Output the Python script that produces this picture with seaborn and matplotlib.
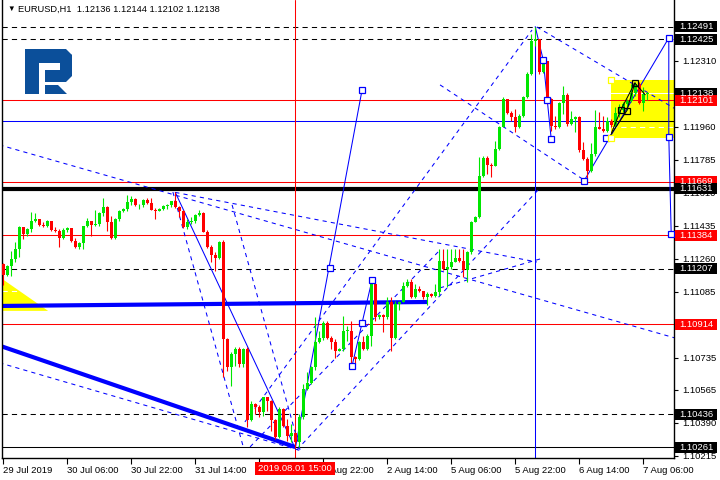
import seaborn as sns
import matplotlib.pyplot as plt
from matplotlib.patches import Rectangle, Polygon
from matplotlib.transforms import blended_transform_factory

sns.set_style("white")
plt.rcParams['font.family'] = ['Liberation Sans', 'DejaVu Sans']

# EURUSD H1 bars, 29 Jul 14:00 .. 7 Aug 07:00 (open of a bar = close of the previous one)
first_open = 1.11232
closes = [
    1.11174, 1.11223, 1.11259, 1.11312, 1.11427, 1.11391, 1.11418, 1.11462, 1.11471, 1.11439,
    1.11432, 1.11458, 1.11413, 1.11405, 1.11368, 1.11414, 1.11421, 1.11356, 1.11321, 1.11344,
    1.11432, 1.11462, 1.11441, 1.11444, 1.11503, 1.11533, 1.11457, 1.11368, 1.11471, 1.11515,
    1.11524, 1.11559, 1.11577, 1.11545, 1.11547, 1.11573, 1.11556, 1.11520, 1.11515, 1.11524,
    1.11538, 1.11547, 1.11564, 1.11533, 1.11511, 1.11427, 1.11453, 1.11462, 1.11492, 1.11501,
    1.11404, 1.11324, 1.11282, 1.11264, 1.11351,
    1.10837, 1.10685, 1.10755, 1.10782, 1.10702, 1.10782, 1.10405, 1.10490, 1.10476, 1.10446,
    1.10526, 1.10508, 1.10405, 1.10313, 1.10464, 1.10375, 1.10322, 1.10335, 1.10287, 1.10420,
    1.10570, 1.10600, 1.10685, 1.10817, 1.10840, 1.10918, 1.10840, 1.10817, 1.10773, 1.10782,
    1.10879, 1.10879, 1.10741, 1.10729, 1.10817, 1.10782, 1.10852, 1.11126, 1.10950, 1.10964,
    1.10950, 1.11029, 1.10840, 1.11020, 1.11029, 1.11117, 1.11135, 1.11056, 1.11100, 1.11087,
    1.11056, 1.11073, 1.11064, 1.11082, 1.11250,
    1.11206, 1.11214, 1.11241, 1.11264, 1.11246, 1.11200, 1.11294, 1.11453, 1.11480, 1.11700,
    1.11794, 1.11759, 1.11754, 1.11842, 1.11960, 1.12107, 1.12031, 1.12013, 1.11957, 1.12018,
    1.12119, 1.12239, 1.12412, 1.12425, 1.12248, 1.12306, 1.12107, 1.11965, 1.11957, 1.12084,
    1.12130, 1.11974, 1.12001, 1.12010, 1.11836, 1.11789, 1.11723, 1.11815, 1.11957, 1.11950,
    1.11935, 1.11992, 1.11971, 1.12031, 1.12048, 1.12080, 1.12098, 1.12137, 1.12186, 1.12084,
    1.12136, 1.12138,
]
highs = [
    1.11236, 1.11227, 1.11303, 1.11347, 1.11432, 1.11427, 1.11421, 1.11506, 1.11503, 1.11471,
    1.11453, 1.11464, 1.11460, 1.11427, 1.11418, 1.11421, 1.11428, 1.11425, 1.11368, 1.11347,
    1.11435, 1.11474, 1.11462, 1.11519, 1.11510, 1.11582, 1.11538, 1.11489, 1.11474, 1.11520,
    1.11527, 1.11600, 1.11594, 1.11580, 1.11550, 1.11577, 1.11580, 1.11582, 1.11531, 1.11531,
    1.11545, 1.11550, 1.11568, 1.11612, 1.11541, 1.11520, 1.11471, 1.11480, 1.11497, 1.11520,
    1.11510, 1.11413, 1.11333, 1.11294, 1.11356,
    1.11360, 1.10840, 1.10764, 1.10791, 1.10791, 1.10787, 1.10790, 1.10508, 1.10495, 1.10487,
    1.10529, 1.10529, 1.10511, 1.10411, 1.10473, 1.10469, 1.10411, 1.10384, 1.10340, 1.10437,
    1.10596, 1.10658, 1.10693, 1.10950, 1.10879, 1.10932, 1.10928, 1.10852, 1.10835, 1.10787,
    1.10958, 1.10905, 1.10932, 1.10746, 1.10826, 1.10852, 1.10861, 1.11144, 1.11135, 1.10967,
    1.10967, 1.11056, 1.11056, 1.11038, 1.11038, 1.11135, 1.11153, 1.11153, 1.11126, 1.11117,
    1.11091, 1.11082, 1.11077, 1.11126, 1.11312,
    1.11312, 1.11312, 1.11312, 1.11312, 1.11312, 1.11312, 1.11303, 1.11462, 1.11489, 1.11798,
    1.11806, 1.11806, 1.11766, 1.11886, 1.11965, 1.12119, 1.12107, 1.12045, 1.12054, 1.12027,
    1.12124, 1.12248, 1.12451, 1.12491, 1.12425, 1.12319, 1.12306, 1.12112, 1.12018, 1.12089,
    1.12177, 1.12137, 1.12045, 1.12018, 1.12018, 1.11877, 1.11798, 1.11872, 1.12048, 1.12036,
    1.12018, 1.12010, 1.12001, 1.12063, 1.12080, 1.12089, 1.12107, 1.12186, 1.12195, 1.12195,
    1.12169, 1.12144,
]
lows = [
    1.11121, 1.11167, 1.11167, 1.11245, 1.11268, 1.11365, 1.11382, 1.11404, 1.11453, 1.11435,
    1.11427, 1.11428, 1.11409, 1.11400, 1.11321, 1.11365, 1.11404, 1.11351, 1.11315, 1.11312,
    1.11312, 1.11427, 1.11382, 1.11435, 1.11435, 1.11489, 1.11409, 1.11365, 1.11365, 1.11458,
    1.11506, 1.11515, 1.11547, 1.11541, 1.11526, 1.11534, 1.11552, 1.11517, 1.11471, 1.11511,
    1.11517, 1.11524, 1.11534, 1.11529, 1.11480, 1.11421, 1.11418, 1.11444, 1.11450, 1.11485,
    1.11400, 1.11319, 1.11245, 1.11197, 1.11259,
    1.10632, 1.10667, 1.10587, 1.10693, 1.10688, 1.10685, 1.10367, 1.10398, 1.10437, 1.10420,
    1.10428, 1.10455, 1.10349, 1.10305, 1.10310, 1.10367, 1.10296, 1.10287, 1.10255, 1.10260,
    1.10411, 1.10564, 1.10596, 1.10670, 1.10812, 1.10829, 1.10835, 1.10782, 1.10734, 1.10769,
    1.10769, 1.10826, 1.10693, 1.10702, 1.10723, 1.10776, 1.10776, 1.10799, 1.10932, 1.10941,
    1.10870, 1.10941, 1.10773, 1.10835, 1.10988, 1.11029, 1.11112, 1.11052, 1.11052, 1.11082,
    1.11047, 1.11017, 1.11059, 1.11059, 1.11064,
    1.11200, 1.11108, 1.11206, 1.11241, 1.11241, 1.11161, 1.11135, 1.11285, 1.11453, 1.11476,
    1.11692, 1.11709, 1.11692, 1.11754, 1.11836, 1.11957, 1.12027, 1.11992, 1.11930, 1.11953,
    1.12010, 1.12115, 1.12235, 1.12389, 1.12239, 1.12243, 1.12080, 1.11939, 1.11948, 1.11953,
    1.12027, 1.11965, 1.11971, 1.11930, 1.11824, 1.11783, 1.11683, 1.11718, 1.11806, 1.11948,
    1.11930, 1.11930, 1.11960, 1.11957, 1.12010, 1.12036, 1.12048, 1.12089, 1.12124, 1.12080,
    1.12045, 1.12102,
]
opens = [first_open] + closes[:-1]

time_ticks = [0, 16, 32, 48, 64, 80, 96, 112, 128, 144, 160]
# the 1 Aug 06:00 label sits under the highlighted date box
time_labels = ["29 Jul 2019", "30 Jul 06:00", "30 Jul 22:00", "31 Jul 14:00", "",
               "1 Aug 22:00", "2 Aug 14:00", "5 Aug 06:00", "5 Aug 22:00", "6 Aug 14:00",
               "7 Aug 06:00"]
marked_bar = 73
marked_label = "2019.08.01 15:00"

price_ticks = [1.12310, 1.12135, 1.11960, 1.11785, 1.11610, 1.11435, 1.11260, 1.11085,
               1.10910, 1.10735, 1.10565, 1.10390, 1.10215]
hidden_ticks = [1.12135, 1.10910]

# horizontal levels
red_levels = [1.12101, 1.11669, 1.11384, 1.10914]
dashed_levels = [1.12491, 1.12425, 1.11207, 1.10436]
blue_level = 1.11990
thick_level = 1.11631
floor_level = 1.10261
bid = 1.12138

box_levels = [1.12491, 1.12425, 1.12138, 1.12101, 1.11669, 1.11631, 1.11384, 1.11207,
              1.10914, 1.10436, 1.10261]
box_colors = ['black', 'black', 'black', 'red', 'red', 'black', 'red', 'black',
              'red', 'black', 'black']

# chart objects (bar index, price)
thick_blue_flat = [(-1, 1.11010), (106, 1.11031)]
thick_blue_slope = [(-1, 1.10800), (73, 1.10262)]
thin_dash_slope = [(-1, 1.10709), (74, 1.10245)]
wave_down = [(43, 1.11612), (73, 1.10255), (89.7, 1.12155)]
wave_marks = [(81.7, 1.11212), (89.7, 1.12155)]
small_wave = [(87.2, 1.10692), (89.7, 1.10920), (92.2, 1.11148)]
peak_wave = [(133, 1.12491), (135, 1.12314), (136, 1.12102), (137, 1.11895)]
forecast = [(145.2, 1.11673), (166.4, 1.12431), (166.4, 1.11906), (167, 1.11392)]
forecast_marks = [(145.2, 1.11673), (150.8, 1.11901), (166.4, 1.12431), (166.4, 1.11906),
                  (167, 1.11392)]
inner_wave_a = [(152.1, 1.11929), (154.4, 1.12049), (157.9, 1.12192), (160.5, 1.12130)]
inner_wave_b = [(151.5, 1.11905), (155.9, 1.12045), (157.9, 1.12192)]
inner_marks = [(154.4, 1.12049), (155.9, 1.12045), (157.9, 1.12192)]
yellow_marks = [(151.9, 1.12208), (151.9, 1.11901)]
dashed_lines = [
    [(-1, 1.11864), (168, 1.10840)],
    [(43, 1.11612), (133.4, 1.11243)],
    [(109.2, 1.12182), (145.9, 1.11668)],
    [(133.4, 1.12489), (168, 1.12055)],
    [(73.4, 1.10247), (134.2, 1.11636)],
    [(60.4, 1.10395), (132.2, 1.12473)],
    [(42.4, 1.11614), (60, 1.10263)],
    [(57.2, 1.11546), (74.2, 1.10247)],
    [(61.7, 1.10263), (109.2, 1.11307)],
    [(109.2, 1.11106), (134.2, 1.11259)],
]
yellow_box = (151.9, 1.11901, 1.12208)
left_wedge = [(-1, 1.11164), (11.2, 1.10984), (-1, 1.10984)]

fig = plt.figure(figsize=(7.2, 4.8), dpi=100)
ax = fig.add_axes([2 / 720, 22 / 480, 672 / 720, 458 / 480])
x0, x1 = -0.33, 167.7
y0, y1 = 1.10204, 1.12632
thin = 0.75

# yellow zones
ax.add_patch(Polygon(left_wedge, closed=True, fc='#ffff00', ec='none', zorder=1))
bx, bb, bt = yellow_box
ax.add_patch(Rectangle((bx, bb), x1 - bx, bt - bb, fc='#ffff00', ec='none', zorder=1))
ax.axhline(1.11960, color='white', lw=thin, ls=(0, (5, 4)), zorder=1.5)
ax.axhline(1.11090, color='white', lw=thin, ls=(0, (5, 4)), zorder=1.5)
ax.axhline(bid, color='white', lw=thin, zorder=1.5)

# horizontal levels
for lv in red_levels:
    ax.axhline(lv, color='red', lw=thin, zorder=2)
for lv in dashed_levels:
    ax.axhline(lv, color='black', lw=thin, ls=(0, (5, 4)), zorder=2)
ax.axhline(blue_level, color='#0000ff', lw=thin, zorder=2)
ax.plot([bx, x1], [blue_level, blue_level], color='black', lw=thin, zorder=2.1)
ax.axhline(thick_level, color='black', lw=3, zorder=2)
ax.axhline(floor_level, color='black', lw=thin, zorder=2)
ax.axvline(marked_bar, color='red', lw=thin, zorder=2)
ax.plot([133, 133], [1.12491, y0], color='#0000ff', lw=thin, zorder=2)

# thick blue lines
for pts in (thick_blue_flat, thick_blue_slope):
    xs, ys = zip(*pts)
    ax.plot(xs, ys, color='#0000ff', lw=3, solid_capstyle='butt', zorder=2)

# dashed trend lines
for pts in dashed_lines + [thin_dash_slope]:
    xs, ys = zip(*pts)
    ax.plot(xs, ys, color='#0000ff', lw=thin, ls=(0, (4, 4)), zorder=2)

# solid waves
for pts in (wave_down, small_wave, peak_wave, forecast):
    xs, ys = zip(*pts)
    sns.lineplot(x=list(xs), y=list(ys), ax=ax, sort=False, estimator=None,
                 color='#0000ff', lw=thin, zorder=3)
for pts in (inner_wave_a, inner_wave_b):
    xs, ys = zip(*pts)
    sns.lineplot(x=list(xs), y=list(ys), ax=ax, sort=False, estimator=None,
                 color='black', lw=thin, zorder=5)
marks = wave_marks + small_wave + peak_wave[1:] + forecast_marks
mx, my = zip(*marks)
ax.plot(mx, my, ls='none', marker='s', ms=4.5, mfc='white', mec='#0000ff', mew=0.9, zorder=6)
mx, my = zip(*inner_marks)
ax.plot(mx, my, ls='none', marker='s', ms=4.5, mfc='none', mec='black', mew=0.9, zorder=6)
mx, my = zip(*yellow_marks)
ax.plot(mx, my, ls='none', marker='s', ms=4.5, mfc='white', mec='#ffff00', mew=0.9, zorder=6)

# candles
for i, (o, h, l, c) in enumerate(zip(opens, highs, lows, closes)):
    col = '#00e600' if c >= o else '#ff0000'
    ax.vlines(i, l, h, color=col, lw=0.8, zorder=4)
    ax.bar(i, max(abs(c - o), 0.00002), bottom=min(o, c), width=0.75, color=col,
           linewidth=0, zorder=4)

ax.set_xlim(x0, x1)
ax.set_ylim(y0, y1)

# axes styling
for side in ['left', 'right', 'bottom']:
    ax.spines[side].set_color('black')
    ax.spines[side].set_linewidth(1)
ax.spines['top'].set_visible(False)
ax.yaxis.tick_right()
ax.set_yticks(price_ticks)
ax.set_yticklabels(["" if p in hidden_ticks else f"{p:.5f}" for p in price_ticks])
ax.set_xticks(time_ticks)
ax.set_xticklabels(time_labels, ha='left')
ax.tick_params(axis='y', direction='out', length=3, width=0.8, labelsize=6.8, pad=3,
               colors='black', right=True, left=False)
ax.tick_params(axis='x', direction='out', length=4, width=0.8, labelsize=6.8, pad=2,
               colors='black', bottom=True)
ax.grid(False)

# price boxes on the right scale
tr = blended_transform_factory(ax.transAxes, ax.transData)
hpx = (y1 - y0) / 458
for lv, col in zip(box_levels, box_colors):
    ax.add_patch(Rectangle((1.0015, lv - 5.5 * hpx), 0.0625, 11 * hpx, transform=tr,
                           fc=col, ec='none', clip_on=False, zorder=10))
    ax.text(1.0085, lv, f"{lv:.5f}", transform=tr, color='white', fontsize=6.8,
            va='center', ha='left', clip_on=False, zorder=11)

# date box for the marked bar
trx = blended_transform_factory(ax.transData, fig.transFigure)
ax.add_patch(Rectangle((marked_bar - 10, 5 / 480), 20, 13 / 480, transform=trx,
                       fc='red', ec='none', clip_on=False, zorder=10))
ax.text(marked_bar, 11.5 / 480, marked_label, transform=trx, color='white', fontsize=6.8,
        ha='center', va='center', clip_on=False, zorder=11)

# header
fig.text(7 / 720, 1 - 9 / 480, "\u25bc", fontsize=5.5, va='center', color='black')
fig.text(18 / 720, 1 - 9 / 480, "EURUSD,H1  1.12136 1.12144 1.12102 1.12138",
         fontsize=6.7, va='center', color='black')

# logo
def px(x, y):
    return (x / 720, 1 - y / 480)

logo_col = '#0b4f9a'
for shape in (
    [px(25, 49), px(66, 49), px(72, 55), px(72, 63), px(25, 63)],
    [px(25, 49), px(39, 49), px(39, 94), px(25, 94)],
    [px(60, 49), px(72, 55), px(72, 76), px(66, 82), px(60, 82)],
    [px(45, 70), px(66, 70), px(66, 82), px(45, 82)],
    [px(45, 85), px(58, 85), px(67, 94), px(45, 94)],
):
    fig.add_artist(Polygon(shape, closed=True, fc=logo_col, ec='none',
                           transform=fig.transFigure))

fig.savefig("out.png", dpi=100)
